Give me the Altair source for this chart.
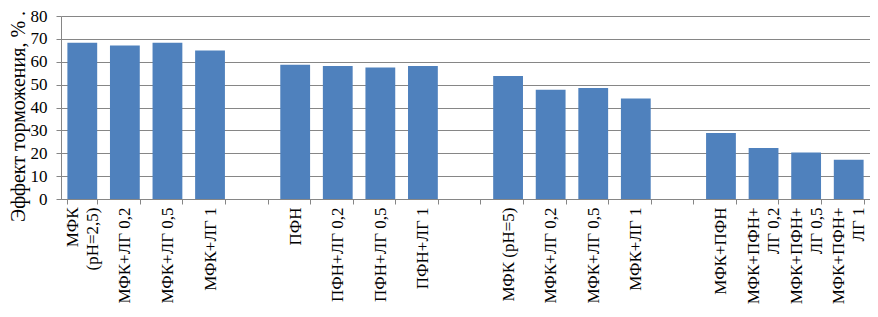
import altair as alt
import pandas as pd

# Bar labels ("|" marks a line break) in order, grouped by 4
labels = [
    "МФК|(рН=2,5)", "МФК+ЛГ 0,2", "МФК+ЛГ 0,5", "МФК+ЛГ 1",
    "ПФН", "ПФН+ЛГ 0,2", "ПФН+ЛГ 0,5", "ПФН+ЛГ 1",
    "МФК (рН=5)", "МФК+ЛГ 0,2", "МФК+ЛГ 0,5", "МФК+ЛГ 1",
    "МФК+ПФН", "МФК+ПФН+|ЛГ 0,2", "МФК+ПФН+|ЛГ 0,5", "МФК+ПФН+|ЛГ 1",
]
values = [
    68.3, 67.1, 68.3, 64.9,
    58.7, 58.1, 57.5, 58.1,
    53.8, 47.8, 48.5, 43.9,
    28.9, 22.3, 20.3, 17.2,
]
group_size = 4
y_ticks = [0, 10, 20, 30, 40, 50, 60, 70, 80]

# slots: each group of 4 bars followed by an empty slot
slots = [(i // group_size) * (group_size + 1) + i % group_size for i in range(len(labels))]
n_slots = slots[-1] + 1
slot_labels = [""] * n_slots
for s, lab in zip(slots, labels):
    slot_labels[s] = lab

df = pd.DataFrame({"slot": slots, "label": labels, "value": values})

arr = "[" + ",".join("'" + l + "'" for l in slot_labels) + "]"
valid = f"(datum.value >= 0 && datum.value < {n_slots})"
label_expr = f"{valid} ? split({arr}[datum.value], '|') : ''"
multi_test = f"{valid} && indexof({arr}[datum.value], '|') >= 0"

font = "Liberation Serif"
gray = "#868686"
line_h = 20

chart = alt.Chart(df).mark_bar(color="#4F81BD").encode(
    x=alt.X(
        "slot:O",
        scale=alt.Scale(domain=list(range(n_slots)), paddingInner=0.3, paddingOuter=0.15),
        axis=alt.Axis(
            title=None,
            labelExpr=label_expr,
            labelAngle=-90,
            labelAlign="right",
            labelBaseline="middle",
            labelFont=font,
            labelFontSize=17,
            labelColor="black",
            labelLineHeight=line_h,
            labelOffset={"condition": {"test": multi_test, "value": -line_h / 2}, "value": 0},
            labelPadding=3,
            labelOverlap=False,
            labelLimit=200,
            tickBand="extent",
            tickColor=gray,
            tickSize=5,
            domainColor=gray,
            grid=False,
        ),
    ),
    y=alt.Y(
        "value:Q",
        scale=alt.Scale(domain=[0, 80], nice=False),
        axis=alt.Axis(
            title="Эффект торможения, %  .",
            values=y_ticks,
            titleFont=font,
            titleFontSize=20,
            titleFontWeight="normal",
            titleColor="black",
            titlePadding=2,
            titleY=100,
            labelFont=font,
            labelFontSize=17,
            labelColor="black",
            labelPadding=9,
            tickColor=gray,
            tickSize=5,
            domainColor=gray,
            gridColor=gray,
            gridWidth=1,
            gridOpacity=1,
        ),
    ),
).properties(
    width=809,
    height=183,
    autosize=alt.AutoSizeParams(type="none"),
    padding={"left": 53, "top": 8, "right": 0, "bottom": 110},
).configure_view(stroke=None)

chart.save("out.html", embed_options={"renderer": "svg", "actions": False})
